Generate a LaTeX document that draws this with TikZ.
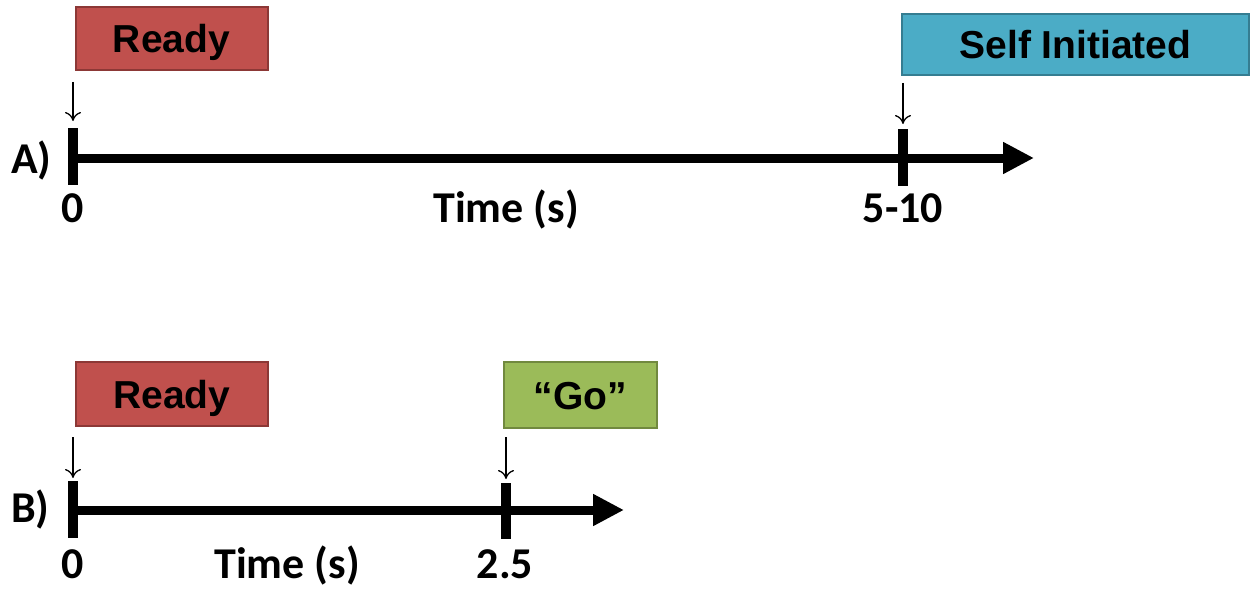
\documentclass[tikz,border=0pt]{standalone}
\usepackage{fontspec}
\usetikzlibrary{arrows.meta}
\newfontfamily\boxfont{Liberation Sans}
\newfontfamily\lblfont{Carlito}
\definecolor{readyfill}{HTML}{C0504D}
\definecolor{readyline}{HTML}{8C3836}
\definecolor{selffill}{HTML}{4BACC6}
\definecolor{selfline}{HTML}{357D91}
\definecolor{gofill}{HTML}{9BBB59}
\definecolor{goline}{HTML}{71893F}
\tikzset{
  event/.style={draw, line width=2pt, inner sep=0pt, anchor=center,
    text height=28pt, text depth=0pt,
    font=\boxfont\bfseries\fontsize{39}{44}\selectfont},
  readybox/.style={event, fill=readyfill, draw=readyline},
  selfbox/.style={event, fill=selffill, draw=selfline},
  gobox/.style={event, fill=gofill, draw=goline},
  axis/.style={line width=9pt, -{Triangle[length=31pt,width=30pt]}},
  tickmark/.style={line width=10pt},
  cue/.style={line width=1.3pt, -{To[length=9pt,width=16pt]}},
  lbl/.style={inner sep=0pt, anchor=base, font=\lblfont\bfseries\fontsize{44}{50}\selectfont},
}
\begin{document}
\begin{tikzpicture}[x=1pt,y=-1pt]
\useasboundingbox (0,0) rectangle (1251,594);

% ---- A) self-initiated timeline ----
\node[readybox, minimum width=192pt, minimum height=63pt] (readyA) at (171.5,38.5) {Ready};
\node[selfbox, minimum width=347pt, minimum height=61pt] (self) at (1075.5,44.5) {Self Initiated};

\coordinate (a0top) at (73,128);
\coordinate (a0bot) at (73,185);
\coordinate (a1top) at (903,129);
\coordinate (a1bot) at (903,186);
\coordinate (axAstart) at (73,158);
\coordinate (axAend) at (1034,158);

\draw[axis] (axAstart) -- (axAend);
\draw[tickmark] (a0top) -- (a0bot);
\draw[tickmark] (a1top) -- (a1bot);

\coordinate (cueA0s) at (73,82);
\coordinate (cueA0e) at (73,121);
\coordinate (cueA1s) at (903,83);
\coordinate (cueA1e) at (903,124);
\draw[cue] (cueA0s) -- (cueA0e);
\draw[cue] (cueA1s) -- (cueA1e);

\node[lbl, anchor=base west] (labA) at (11,173) {A)};
\node[lbl] (zeroA) at (73,222) {0};
\node[lbl] (timeA) at (506,222) {Time (s)};
\node[lbl] (endA) at (903,222) {5-10};

% ---- B) cued timeline ----
\node[readybox, minimum width=192pt, minimum height=64pt] (readyB) at (172,394) {Ready};
\node[gobox, minimum width=153pt, minimum height=66pt] (go) at (580.5,395) {“Go”};

\coordinate (b0top) at (73,481);
\coordinate (b0bot) at (73,538);
\coordinate (b1top) at (506,483);
\coordinate (b1bot) at (506,539);
\coordinate (axBstart) at (73,510);
\coordinate (axBend) at (624,510);

\draw[axis] (axBstart) -- (axBend);
\draw[tickmark] (b0top) -- (b0bot);
\draw[tickmark] (b1top) -- (b1bot);

\coordinate (cueB0s) at (73,437);
\coordinate (cueB0e) at (73,478);
\coordinate (cueB1s) at (506,437);
\coordinate (cueB1e) at (506,479);
\draw[cue] (cueB0s) -- (cueB0e);
\draw[cue] (cueB1s) -- (cueB1e);

\node[lbl, anchor=base west] (labB) at (11,522) {B)};
\node[lbl] (zeroB) at (73,578) {0};
\node[lbl] (timeB) at (287,578) {Time (s)};
\node[lbl] (endB) at (505,578) {2.5};
\end{tikzpicture}
\end{document}
